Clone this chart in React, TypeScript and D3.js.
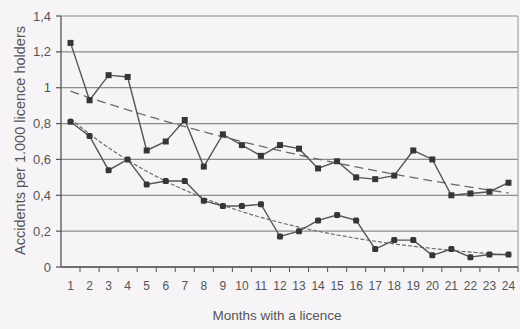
import React from "react";
import * as d3 from "d3";

// Months since the licence was obtained
const months: number[] = d3.range(1, 25);

// Accidents per 1.000 licence holders, upper series
const seriesA: number[] = [
  1.25, 0.93, 1.07, 1.06, 0.65, 0.7, 0.82, 0.56, 0.74, 0.68, 0.62, 0.68,
  0.66, 0.55, 0.59, 0.5, 0.49, 0.51, 0.65, 0.6, 0.4, 0.41, 0.42, 0.47,
];

// Accidents per 1.000 licence holders, lower series
const seriesB: number[] = [
  0.81, 0.73, 0.54, 0.6, 0.46, 0.48, 0.48, 0.37, 0.34, 0.34, 0.35, 0.17,
  0.2, 0.26, 0.29, 0.26, 0.1, 0.15, 0.15, 0.065, 0.1, 0.055, 0.07, 0.07,
];

const yTicks: number[] = [0, 0.2, 0.4, 0.6, 0.8, 1, 1.2, 1.4];
const yTickLabels: string[] = ["0", "0,2", "0,4", "0,6", "0,8", "1", "1,2", "1,4"];

const W = 520;
const H = 329;
const margin = { left: 61, right: 2, top: 16, bottom: 62 };

// Exponential trend y = a * e^(b x), fitted by least squares on ln(y)
function expFit(xs: number[], ys: number[]) {
  const ly = ys.map((v) => Math.log(v));
  const mx = d3.mean(xs)!;
  const my = d3.mean(ly)!;
  let sxy = 0;
  let sxx = 0;
  xs.forEach((x, i) => {
    sxy += (x - mx) * (ly[i] - my);
    sxx += (x - mx) * (x - mx);
  });
  const b = sxy / sxx;
  const a = Math.exp(my - b * mx);
  return (x: number) => a * Math.exp(b * x);
}

export default function App() {
  const x = d3
    .scaleBand<number>()
    .domain(months)
    .range([margin.left, W - margin.right]);
  const y = d3
    .scaleLinear()
    .domain([0, 1.4])
    .range([H - margin.bottom, margin.top]);

  const cx = (m: number) => x(m)! + x.bandwidth() / 2;

  const line = d3
    .line<[number, number]>()
    .x((d) => cx(d[0]))
    .y((d) => y(d[1]));

  const ptsA: [number, number][] = months.map((m, i) => [m, seriesA[i]]);
  const ptsB: [number, number][] = months.map((m, i) => [m, seriesB[i]]);

  const trendA = expFit(months, seriesA);
  const trendB = expFit(months, seriesB);
  const fine = d3.range(1, 24.01, 0.25);

  const tA = d3
    .line<number>()
    .x((m) => cx(1) + (m - 1) * x.step())
    .y((m) => y(trendA(m)));
  const tB = d3
    .line<number>()
    .x((m) => cx(1) + (m - 1) * x.step())
    .y((m) => y(trendB(m)));

  const x0 = margin.left;
  const x1 = W - margin.right;
  const yBottom = H - margin.bottom;
  const text = "#555";
  const font = "'Liberation Sans', Arial, sans-serif";
  const ms = 6;

  return (
    <svg
      width={W}
      height={H}
      style={{ position: "absolute", left: 0, top: 0, background: "#f6f4f6" }}
      fontFamily={font}
    >
      <rect x={0} y={0} width={W} height={H} fill="#f6f4f6" />
      {/* gridlines */}
      {yTicks.map((t) => (
        <line
          key={"g" + t}
          x1={x0}
          x2={x1}
          y1={y(t)}
          y2={y(t)}
          stroke="#8c8c8c"
          strokeWidth={1.2}
        />
      ))}
      {/* right frame */}
      <line x1={x1} x2={x1} y1={y(1.4)} y2={yBottom} stroke="#9a9a9a" strokeWidth={1} />
      {/* y axis */}
      <line x1={x0} x2={x0} y1={y(1.4)} y2={yBottom} stroke="#555" strokeWidth={1.3} />
      {yTicks.map((t, i) => (
        <g key={"yt" + t}>
          <line x1={x0 - 5} x2={x0} y1={y(t)} y2={y(t)} stroke="#555" strokeWidth={1.2} />
          <text
            x={x0 - 10}
            y={y(t)}
            dy="0.35em"
            textAnchor="end"
            fontSize={13}
            fill={text}
          >
            {yTickLabels[i]}
          </text>
        </g>
      ))}
      {/* x axis */}
      <line x1={x0} x2={x1} y1={yBottom} y2={yBottom} stroke="#555" strokeWidth={1.3} />
      {months.map((m) => (
        <line
          key={"xt" + m}
          x1={x(m)! + x.step()}
          x2={x(m)! + x.step()}
          y1={yBottom}
          y2={yBottom + 5}
          stroke="#555"
          strokeWidth={1}
        />
      ))}
      {months.map((m) => (
        <text
          key={"xl" + m}
          x={cx(m)}
          y={yBottom + 23}
          textAnchor="middle"
          fontSize={12}
          fill={text}
        >
          {m}
        </text>
      ))}
      {/* trend lines */}
      <path
        d={tA(fine) || ""}
        fill="none"
        stroke="#6a6a6a"
        strokeWidth={1.3}
        strokeDasharray="9 5"
      />
      <path
        d={tB(fine) || ""}
        fill="none"
        stroke="#6e6e6e"
        strokeWidth={1.2}
        strokeDasharray="4 2"
      />
      {/* series */}
      <path d={line(ptsA) || ""} fill="none" stroke="#555" strokeWidth={1.4} />
      <path d={line(ptsB) || ""} fill="none" stroke="#555" strokeWidth={1.4} />
      {ptsA.map((p) => (
        <rect
          key={"a" + p[0]}
          x={cx(p[0]) - ms / 2}
          y={y(p[1]) - ms / 2}
          width={ms}
          height={ms}
          fill="#363636"
        />
      ))}
      {ptsB.map((p) => (
        <rect
          key={"b" + p[0]}
          x={cx(p[0]) - ms / 2}
          y={y(p[1]) - ms / 2}
          width={ms}
          height={ms}
          rx={1.5}
          fill="#363636"
        />
      ))}
      {/* axis titles */}
      <text
        transform={`translate(20, ${(margin.top + yBottom) / 2 - 1}) rotate(-90)`}
        textAnchor="middle"
        dy="0.35em"
        fontSize={14.5}
        fill={text}
      >
        Accidents per 1.000 licence holders
      </text>
      <text
        x={277}
        y={320}
        textAnchor="middle"
        fontSize={13.5}
        fill={text}
      >
        Months with a licence
      </text>
    </svg>
  );
}
